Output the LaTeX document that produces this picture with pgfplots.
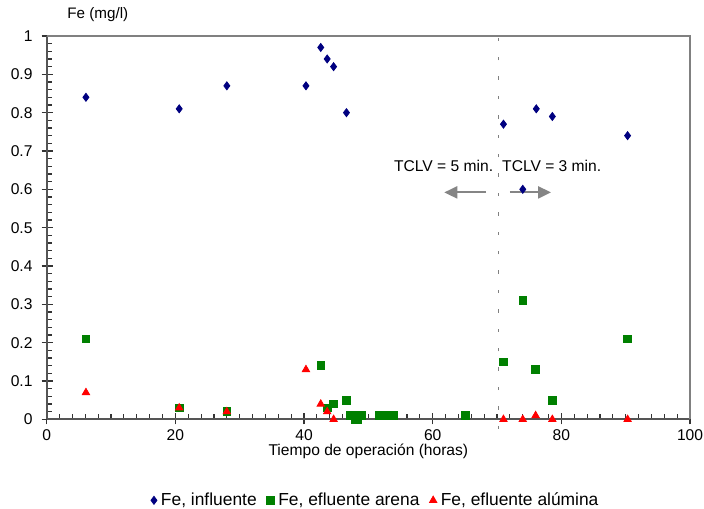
\documentclass[border=0pt]{standalone}
\usepackage{fontspec}
\setmainfont{Liberation Sans}
\usepackage{pgfplots}
\pgfplotsset{compat=1.18}
\usetikzlibrary{arrows.meta,calc}
\definecolor{inflcol}{HTML}{000080}
\definecolor{arenacol}{HTML}{008000}
\definecolor{alumcol}{HTML}{FF0000}
\definecolor{axcol}{HTML}{555555}
\definecolor{arrcol}{HTML}{858585}
\begin{document}
\fontsize{7.8}{9}\selectfont
\begin{tikzpicture}
\begin{axis}[
  name=ax,
  scale only axis,
  width=321.7pt, height=191.7pt,
  xmin=0, xmax=100, ymin=0, ymax=1,
  xtick={0,20,...,100},
  ytick={0,0.1,...,1.0},
  minor x tick num=9,
  minor y tick num=4,
  axis x line*=bottom, axis y line*=left,
  axis line style={draw=axcol, line width=0.9pt},
  tick align=inside,
  major tick length=5.5pt,
  minor tick length=2.5pt,
  tick style={draw=black!80, line width=0.55pt},
  every major x tick/.append style={yshift=-2.5pt},
  every major y tick/.append style={xshift=-2.5pt},
  /pgf/number format/assume math mode=true,
  ticklabel style={font=\fontsize{7.8}{9}\selectfont},
  yticklabel style={xshift=-4.3pt},
  xticklabel style={yshift=-2.5pt},
  xlabel={Tiempo de operación (horas)},
  xlabel style={font=\fontsize{7.8}{9}\selectfont, yshift=4pt},
  clip=false,
  legend columns=-1,
  legend style={at={(0.513,-0.18)}, anchor=north, draw=none, fill=none,
    font=\fontsize{8.7}{10}\selectfont,
    /tikz/every even column/.append style={column sep=3pt},
    inner sep=0pt},
  legend cell align=left,
]
% cambio de TCLV
\draw[gray, line width=0.5pt, dash pattern=on 1.7pt off 8pt]
  (axis cs:70.2,-0.025) -- (axis cs:70.2,1);
\draw[draw=arrcol, line width=1.1pt, -{Triangle[length=6.5pt,width=6pt]}]
  (axis cs:68.3,0.592) -- (axis cs:61.8,0.592);
\draw[draw=arrcol, line width=1.1pt, -{Triangle[length=6.5pt,width=6pt]}]
  (axis cs:72.0,0.592) -- (axis cs:78.4,0.592);
\node[font=\fontsize{7.8}{9}\selectfont] at (axis cs:61.7,0.66) {TCLV = 5 min.};
\node[font=\fontsize{7.8}{9}\selectfont] at (axis cs:78.5,0.66) {TCLV = 3 min.};
\node[anchor=west, font=\fontsize{7.6}{9}\selectfont, inner sep=0pt]
  at ($(rel axis cs:0.0316,1)+(0,10.5pt)$) {Fe (mg/l)};

\addplot[only marks, mark=diamond*, mark size=2pt, color=inflcol]
  coordinates {(6.1,0.84)(20.6,0.81)(28.0,0.87)(40.3,0.87)(42.6,0.97)
               (43.6,0.94)(44.6,0.92)(46.6,0.80)(71.0,0.77)(74.0,0.60)
               (76.1,0.81)(78.6,0.79)(90.3,0.74)};
\addlegendentry{Fe, influente}

\addplot[only marks, mark=square*, mark size=1.9pt, color=arenacol]
  coordinates {(6.1,0.21)(20.6,0.03)(28.0,0.02)(42.6,0.14)(43.6,0.03)
               (44.6,0.04)(46.6,0.05)(47.1,0.01)(47.6,0.01)(48.0,0)
               (48.4,0)(48.9,0.01)(51.7,0.01)(52.2,0.01)(52.8,0.01)
               (54.0,0.01)(65.1,0.01)(71.0,0.15)(74.0,0.31)(76.0,0.13)
               (78.6,0.05)(90.3,0.21)};
\addlegendentry{Fe, efluente arena}

\addplot[only marks, mark=triangle*, mark size=2.1pt, color=alumcol]
  coordinates {(6.1,0.07)(20.6,0.03)(28.0,0.02)(40.3,0.13)(42.6,0.04)
               (43.6,0.02)(44.6,0.0)(71.0,0)(74.0,0)(76.0,0.01)
               (78.6,0)(90.3,0)};
\addlegendentry{Fe, efluente alúmina}

% marco superior y derecho
\draw[draw=gray, line width=0.8pt] (rel axis cs:0,1) -- (rel axis cs:1,1) -- (rel axis cs:1,0);
\end{axis}
\pgfresetboundingbox
\path[use as bounding box] ($(ax.south west)+(-23.35pt,-44.35pt)$) rectangle ($(ax.north east)+(7pt,18pt)$);
\end{tikzpicture}
\end{document}
